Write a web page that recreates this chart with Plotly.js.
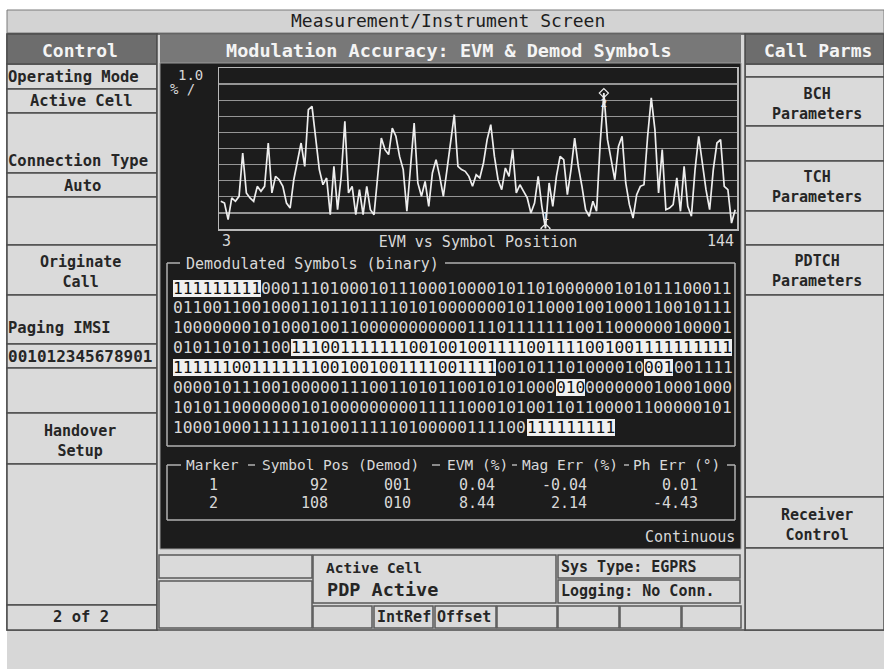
<!DOCTYPE html>
<html><head><meta charset="utf-8">
<script src="https://cdn.plot.ly/plotly-3.0.1.min.js"></script>
<style>html,body{margin:0;padding:0;background:#d7d7d7;overflow:hidden}#chart{width:884px;height:669px}</style>
</head><body><div id="chart"></div>
<script>
// ---------------- DATA ----------------
const firstSymbol = 3, lastSymbol = 144;
const evmPct = [
 1.72,1.61,0.58,1.93,1.72,2.03,4.72,2.24,1.93,1.72, 2.65,2.34,2.65,5.34,2.24,3.27,3.06,2.65,1.61,1.30,
 3.06,4.20,5.34,3.89,7.41,7.62,5.76,3.69,2.75,3.17, 0.89,3.89,1.20,3.27,6.69,2.24,2.65,0.89,2.44,0.89,
 2.65,1.20,0.89,3.06,5.65,4.93,4.62,6.27,5.76,4.51, 3.69,1.10,3.69,6.58,2.86,2.03,2.96,1.41,3.48,4.31,
 3.27,2.03,3.69,5.55,7.10,3.89,3.69,3.58,3.27,2.65, 3.37,3.17,4.10,5.55,6.48,4.51,3.06,2.44,3.79,3.27,
 4.93,2.24,2.75,2.34,1.93,0.99,1.61,3.27,1.41,0.04, 2.86,1.41,3.27,4.51,4.31,2.13,3.69,5.65,3.89,2.65,
 1.20,0.79,1.72,1.10,5.34,8.44,5.55,4.31,3.06,5.13, 5.76,2.86,1.51,0.68,2.13,2.65,2.75,5.76,8.14,6.17,
 2.24,4.93,1.20,1.30,1.51,3.17,1.10,3.89,1.41,0.79, 3.69,5.76,4.10,2.44,1.20,3.69,5.34,5.55,2.65,2.44,
 0.37,1.20
];
const markerIds = ['1', '2'];
const markerSymbol = [92, 108];
const markerDemod = ['001', '010'];
const markerEvm = [0.04, 8.44];
const markerMagErr = [-0.04, 2.14];
const markerPhErr = [0.01, -4.43];
const demodRows = [
 ['111111111','0001110100','0101110001','0000101101','0000001010','11100011'].join(''),
 ['0110011001','0001101101','1110101000','0000101100','0100100011','0010111'].join(''),
 ['1000000010','1000100110','0000000000','1110111111','1001100000','0100001'].join(''),
 ['010110101100','111','001','111','111','001','001','001','111','001','111','001','001','111','111','111'].join(''),
 ['111','111','001','111','111','001','001','001','111','001','111','001011101000010','001','001111'].join(''),
 ['0000101110','0100000111','0011010110','010101000','010','000000010001000'].join(''),
 ['1010110000','0001010000','0000011111','0001010011','0110000110','0000101'].join(''),
 ['1000100011','1111010011','1110100000','111100','111111111'].join('')
];
const demodHighlights = [[0,0,9],[3,12,45],[4,0,33],[4,48,3],[5,39,3],[7,36,9]];
const screenTitle = 'Measurement/Instrument Screen';
const panelTitle = 'Modulation Accuracy: EVM & Demod Symbols';
const chartTitle = 'EVM vs Symbol Position';
const yScaleLabel = ['1.0', '% /'];
const tableHeads = ['Marker', 'Symbol Pos (Demod)', 'EVM (%)', 'Mag Err (%)', 'Ph Err (°)'];

// ---------------- LAYOUT HELPERS ----------------
const W = 884, H = 669;
const px = x => x / W;
const py = y => 1 - y / H;
const MONO = "'DejaVu Sans Mono', 'Liberation Mono', monospace";
const shapes = [], annotations = [];

function rect(x0, y0, x1, y1, fill, line, lw) {
  shapes.push({type:'rect', xref:'paper', yref:'paper', layer:'below',
    x0:px(x0), x1:px(x1), y0:py(y1), y1:py(y0),
    fillcolor: fill || 'rgba(0,0,0,0)',
    line:{color: line || 'rgba(0,0,0,0)', width: line ? (lw || 1.5) : 0}});
}
function seg(x0, y0, x1, y1, color, w) {
  shapes.push({type:'line', xref:'paper', yref:'paper', layer:'below',
    x0:px(x0), x1:px(x1), y0:py(y0), y1:py(y1), line:{color:color, width:w || 1.5}});
}
function label(x, y, text, o) {
  o = o || {};
  const a = {xref:'paper', yref:'paper', x:px(x), y:py(y), text:text, showarrow:false,
    xanchor:o.anchor || 'left', yanchor:'middle', borderwidth:0, borderpad:o.pad || 0,
    font:{family:MONO, size:o.size || 15, color:o.color || '#262626', weight:o.bold ? 700 : 400}};
  if (o.bg) a.bgcolor = o.bg;
  if (o.h) a.height = o.h;
  annotations.push(a);
}

const PANEL = '#dadada', EDGE = '#4d4d4d', HEAD = '#6d6d6d', DARK = '#1c1c1c', LIGHT = '#d8d8d8', FRAME = '#b0b0b0';

// page background & title bar
rect(0, 0, 884, 10, '#ffffff');
rect(0, 0, 7, 669, '#ffffff');
rect(7, 10, 884, 33, '#d3d3d3', '#7a7a7a', 1);
label(448, 21, screenTitle, {anchor:'center', size:18, color:'#1e1e1e'});

// left softkey column
rect(7, 34, 157, 630, PANEL, EDGE);
[[64,89],[89,113],[113,173],[173,197],[197,245],[245,295],[295,344],[344,368],[368,413],[413,464],[464,605],[605,630]]
  .forEach(b => rect(7, b[0], 157, b[1], PANEL, EDGE));
rect(7, 34, 157, 64, HEAD, EDGE);
label(80, 50, 'Control', {anchor:'center', size:18, color:'#f4f4f4', bold:true});
label(8, 77, 'Operating Mode', {bold:true, size:15.5});
label(81, 101, 'Active Cell', {anchor:'center', bold:true, size:15.5});
label(8, 161, 'Connection Type', {bold:true, size:15.5});
label(82, 186, 'Auto', {anchor:'center', bold:true, size:15.5});
label(80, 272, 'Originate<br>Call', {anchor:'center', bold:true, size:15});
label(8, 328, 'Paging IMSI', {bold:true, size:15.5});
label(8, 356, '001012345678901', {bold:true, size:16});
label(80, 441, 'Handover<br>Setup', {anchor:'center', bold:true, size:15});
label(81, 617, '2 of 2', {anchor:'center', bold:true, size:15.5});

// right softkey column
rect(745, 34, 884, 630, PANEL, EDGE);
[[64,77],[77,126],[126,161],[161,211],[211,245],[245,295],[295,497],[497,548],[548,630]]
  .forEach(b => rect(745, b[0], 884, b[1], PANEL, EDGE));
rect(745, 34, 884, 64, HEAD, EDGE);
label(818, 50, 'Call Parms', {anchor:'center', size:18, color:'#f4f4f4', bold:true});
[['BCH<br>Parameters',103.5],['TCH<br>Parameters',187],['PDTCH<br>Parameters',271.5],['Receiver<br>Control',525]]
  .forEach(t => label(817, t[1], t[0], {anchor:'center', bold:true, size:15}));

// centre panel
rect(157, 34, 745, 630, '#d7d7d7', EDGE);
rect(160, 35, 741, 63, '#787878');
label(449, 50, panelTitle, {anchor:'center', size:18.5, color:'#f4f4f4', bold:true});
rect(160, 63, 741, 549, DARK, '#9a9a9a', 1);

// y scale text
label(190, 75, yScaleLabel[0], {anchor:'center', size:14, color:LIGHT});
label(182, 89, yScaleLabel[1], {anchor:'center', size:14, color:LIGHT});

// demodulated symbols frame
seg(167, 263, 167, 446, FRAME); seg(735, 263, 735, 446, FRAME); seg(167, 446, 735, 446, FRAME);
seg(167, 263, 180, 263, FRAME); seg(445, 263, 735, 263, FRAME);
label(186, 264, 'Demodulated Symbols (binary)', {size:15, color:LIGHT});
const charW = 9.82, rowX0 = 173, rowY0 = 288, rowDY = 19.9;
demodRows.forEach((row, r) => {
  const hl = new Array(row.length).fill(false);
  demodHighlights.filter(h => h[0] === r).forEach(h => { for (let i = h[1]; i < h[1] + h[2]; i++) hl[i] = true; });
  let s = 0;
  for (let i = 1; i <= row.length; i++) {
    if (i === row.length || hl[i] !== hl[s]) {
      const t = row.slice(s, i);
      if (hl[s]) label(rowX0 + s * charW, rowY0 + r * rowDY, t, {size:16.3, color:'#111', bg:'#f0f0f0', h:17});
      else label(rowX0 + s * charW, rowY0 + r * rowDY, t, {size:16.3, color:LIGHT});
      s = i;
    }
  }
});

// marker table frame
seg(167, 465, 167, 520, FRAME); seg(735, 465, 735, 520, FRAME); seg(167, 520, 735, 520, FRAME);
[[167,181],[248,255],[432,440],[512,517],[624,629],[727,735]].forEach(p => seg(p[0], 465, p[1], 465, FRAME));
const headX = [186, 262, 447, 522, 633];
tableHeads.forEach((h, i) => label(headX[i], 465, h, {size:14.5, color:LIGHT}));
markerIds.forEach((id, i) => {
  const y = 485 + i * 18;
  label(213, y, id, {anchor:'center', size:15, color:LIGHT});
  label(328, y, String(markerSymbol[i]), {anchor:'right', size:15, color:LIGHT});
  label(397, y, markerDemod[i], {anchor:'center', size:15, color:LIGHT});
  label(495, y, markerEvm[i].toFixed(2), {anchor:'right', size:15, color:LIGHT});
  label(587, y, markerMagErr[i].toFixed(2), {anchor:'right', size:15, color:LIGHT});
  label(698, y, markerPhErr[i].toFixed(2), {anchor:'right', size:15, color:LIGHT});
});
label(735, 537, 'Continuous', {anchor:'right', size:15, color:LIGHT});

// bottom status area
rect(159, 555, 312, 578, PANEL, '#5a5a5a');
rect(159, 581, 312, 628, PANEL, '#5a5a5a');
rect(313, 555, 556, 603, PANEL, '#5a5a5a');
rect(558, 555, 740, 578, PANEL, '#5a5a5a');
rect(558, 580, 740, 603, PANEL, '#5a5a5a');
[[313,372],[374,433],[435,496],[497,557],[558,619],[620,681],[682,741]].forEach(b => rect(b[0], 606, b[1], 628, PANEL, '#5a5a5a'));
label(326, 568, 'Active Cell', {bold:true, size:14.5});
label(327, 589, 'PDP Active', {bold:true, size:18.5});
label(561, 567, 'Sys Type: EGPRS', {bold:true, size:15});
label(561, 591, 'Logging: No Conn.', {bold:true, size:15});
label(377, 617, 'IntRef', {bold:true, size:15});
label(437, 617, 'Offset', {bold:true, size:15});

// ---------------- CHART ----------------
const symbols = [];
for (let s = firstSymbol; s <= lastSymbol; s++) symbols.push(s);

annotations.push({xref:'x', yref:'paper', x:firstSymbol, y:py(241), text:String(firstSymbol), showarrow:false,
  xanchor:'left', yanchor:'middle', borderwidth:0, font:{family:MONO, size:15, color:LIGHT}});
annotations.push({xref:'x', yref:'paper', x:lastSymbol, y:py(241), text:String(lastSymbol), showarrow:false,
  xanchor:'right', yanchor:'middle', borderwidth:0, font:{family:MONO, size:15, color:LIGHT}});

const traces = [
  {type:'scatter', mode:'lines', x:symbols, y:evmPct, line:{color:'#eeeeee', width:1.7}, hoverinfo:'skip'},
  {type:'scatter', mode:'markers+text', x:markerSymbol, y:markerEvm, text:markerIds,
   textposition:['top center','bottom center'], textfont:{family:MONO, size:11, color:'#ececec'},
   marker:{symbol:'diamond-open', size:7, color:'#ececec', line:{width:1.2}}, hoverinfo:'skip'}
];

const layout = {
  width:W, height:H, margin:{l:0, r:0, t:0, b:0},
  paper_bgcolor:'#d7d7d7', plot_bgcolor:'rgba(0,0,0,0)', showlegend:false,
  xaxis:{domain:[px(219), px(737)], range:[2.5, 144.5], showgrid:false, zeroline:false,
    showline:true, mirror:true, linecolor:'#b8b8b8', linewidth:1.5, ticks:'', showticklabels:false,
    title:{text:chartTitle, font:{family:MONO, size:15, color:LIGHT}, standoff:7}},
  yaxis:{domain:[py(229), py(68)], range:[0, 10], dtick:1, tick0:0, showgrid:true, gridcolor:'#959595',
    gridwidth:1.3, zeroline:false, showline:true, mirror:true, linecolor:'#b8b8b8', linewidth:1.5,
    ticks:'', showticklabels:false},
  shapes:shapes, annotations:annotations
};
Plotly.newPlot('chart', traces, layout, {displayModeBar:false, staticPlot:true});
</script></body></html>
